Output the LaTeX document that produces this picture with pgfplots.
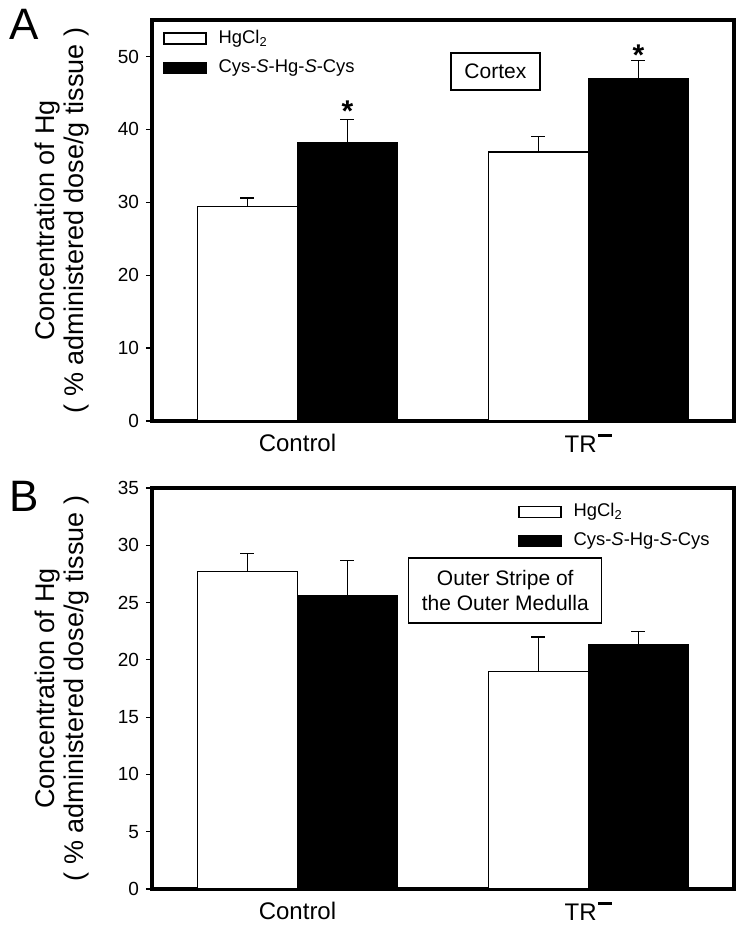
\documentclass[border=0pt]{standalone}
\usepackage{fontspec}
\setmainfont{Liberation Sans}
\usepackage{pgfplots}
\pgfplotsset{compat=1.18}
\newcommand\trminus{\kern0.05em\rule[0.64em]{0.6em}{0.11em}}
\pgfplotsset{
 panel/.style={
   scale only axis, width=291pt, height=200.5pt,
   xmin=-0.5, xmax=1.5, ymin=0,
   ybar=0pt, bar width=50pt,
   xtick={0,1}, xticklabels={Control, TR\trminus},
   x tick style={draw=none},
   ytick pos=left, tick align=outside, major tick length=3pt,
   y tick style={black, line width=0.6pt},
   axis line style={line width=1.8pt},
   /pgf/number format/assume math mode=true,
   yticklabel style={font=\fontsize{9.5}{11}\selectfont},
   xticklabel style={font=\fontsize{12}{14}\selectfont},
   ylabel={Concentration of Hg\\( \% administered dose/g tissue )},
   ylabel style={at={(axis description cs:-0.155,0.5)}, anchor=center, align=center, font=\fontsize{13.5}{14.5}\selectfont},
   legend image code/.code={\draw[#1,line width=0.6pt] (0pt,-2.75pt) rectangle (21pt,2.75pt);},
   legend style={draw=none, fill=none, font=\fontsize{9.2}{10}\selectfont, anchor=north west, inner sep=0pt, row sep=2.5pt, cells={anchor=west},
     /tikz/every odd column/.append style={column sep=4pt}},
   legend cell align=left,
   clip=false,
 },
 wbar/.style={fill=white, draw=black, line width=0.6pt,
   error bars/.cd, y dir=plus, y explicit,
   error bar style={black, line width=0.6pt},
   error mark options={black, line width=0.6pt, mark size=3.5pt, rotate=90}},
 bbar/.style={fill=black, draw=black, line width=0.6pt,
   error bars/.cd, y dir=plus, y explicit,
   error bar style={black, line width=0.6pt},
   error mark options={black, line width=0.6pt, mark size=3.5pt, rotate=90}},
}
\begin{document}
\begin{tikzpicture}
\useasboundingbox (0,0) rectangle (369pt,464pt);
% Panel A
\begin{axis}[panel, at={(76pt,253.5pt)}, anchor=south west,
  ymax=55, ytick={0,10,20,30,40,50},
  legend style={at={(axis description cs:0.019,0.985)}}]
\addplot[wbar] coordinates {(0,29.4) +- (0,1.2) (1,36.9) +- (0,2.1)};
\addlegendentry{HgCl\textsubscript{2}}
\addplot[bbar] coordinates {(0,38.2) +- (0,3.2) (1,47.0) +- (0,2.5)};
\addlegendentry{Cys-\textit{S}-Hg-\textit{S}-Cys}
\node[font=\fontsize{15}{15}\selectfont\bfseries, anchor=south, inner sep=0pt] at ([xshift=25pt,yshift=-1.5pt]axis cs:0,41.4) {*};
\node[font=\fontsize{15}{15}\selectfont\bfseries, anchor=south, inner sep=0pt] at ([xshift=25pt,yshift=-3pt]axis cs:1,49.5) {*};
\node[draw=black, line width=0.7pt, fill=white, minimum width=44.5pt, minimum height=18.5pt, inner sep=0pt, font=\fontsize{10.5}{12}\selectfont] at (axis description cs:0.590,0.8716) {Cortex};
\end{axis}
% Panel B
\begin{axis}[panel, at={(76pt,19.5pt)}, anchor=south west,
  ymax=35, ytick={0,5,10,15,20,25,30,35},
  legend style={at={(axis description cs:0.629,0.972)}}]
\addplot[wbar] coordinates {(0,27.7) +- (0,1.6) (1,19.0) +- (0,3.0)};
\addlegendentry{HgCl\textsubscript{2}}
\addplot[bbar] coordinates {(0,25.6) +- (0,3.1) (1,21.3) +- (0,1.2)};
\addlegendentry{Cys-\textit{S}-Hg-\textit{S}-Cys}
\node[draw=black, line width=0.7pt, fill=white, minimum width=96.5pt, minimum height=32.5pt, inner sep=0pt, align=center, font=\fontsize{10.5}{12.5}\selectfont] at (axis description cs:0.607,0.744) {Outer Stripe of\\the Outer Medulla};
\end{axis}
\node[font=\fontsize{22}{22}\selectfont] at (12pt,452pt) {A};
\node[font=\fontsize{22}{22}\selectfont] at (12pt,216pt) {B};
\end{tikzpicture}
\end{document}
